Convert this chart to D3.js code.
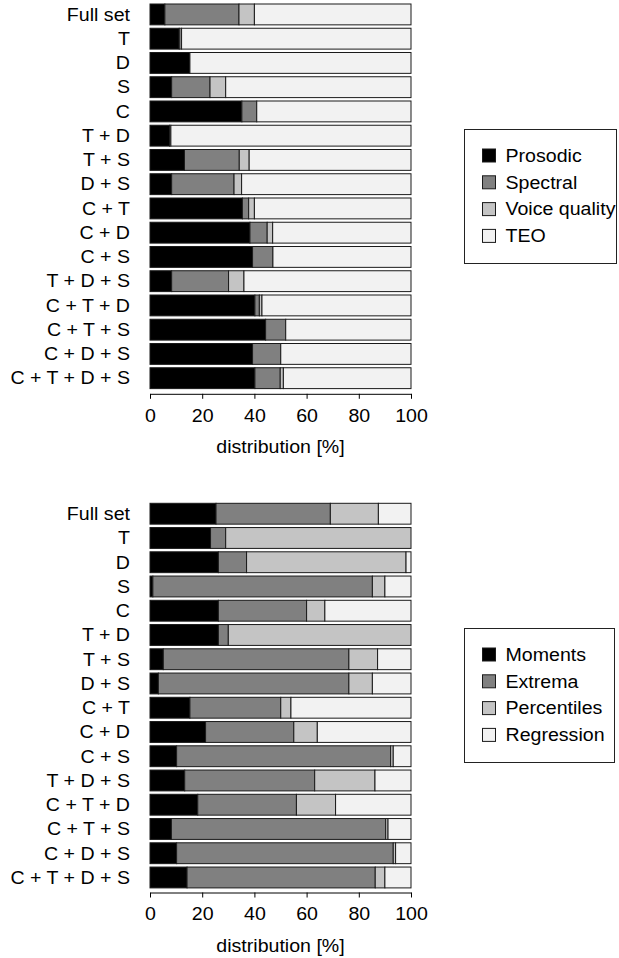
<!DOCTYPE html>
<html>
<head>
<meta charset="utf-8">
<script src="https://cdn.jsdelivr.net/npm/d3@7"></script>
<style>
  body { margin: 0; background: #fff; }
  text { font-family: "Liberation Sans", Arial, Helvetica, sans-serif; fill: #000; }
</style>
</head>
<body>
<svg id="chart" width="619" height="958"></svg>
<script>
// row labels (same for both panels)
var categories = ['Full set', 'T', 'D', 'S', 'C', 'T + D', 'T + S', 'D + S', 'C + T', 'C + D', 'C + S',
  'T + D + S', 'C + T + D', 'C + T + S', 'C + D + S', 'C + T + D + S'];

// panel 1: feature groups [%]
var groups1 = ['Prosodic', 'Spectral', 'Voice quality', 'TEO'];
var prosodic     = [5.7, 11.2, 15.3, 8.3, 35.2, 7.5, 13.2, 8.3, 35.4, 38.3, 39.3, 8.3, 40.2, 44.3, 39.3, 40.2];
var spectral     = [28.4, 0.9, 0, 14.7, 5.7, 0.5, 21.0, 23.9, 2.4, 6.6, 7.8, 21.8, 1.7, 7.7, 10.8, 9.7];
var voiceQuality = [5.9, 0, 0, 6.0, 0, 0, 3.8, 2.9, 2.2, 2.1, 0, 5.9, 1.0, 0, 0, 1.2];
var teo          = [60.0, 87.9, 84.7, 71.0, 59.1, 92.0, 62.0, 64.9, 60.0, 53.0, 52.9, 64.0, 57.1, 48.0, 49.9, 48.9];

// panel 2: functional types [%]
var groups2 = ['Moments', 'Extrema', 'Percentiles', 'Regression'];
var moments     = [25.3, 23.2, 26.2, 1.1, 26.2, 26.2, 5.1, 3.2, 15.3, 21.3, 10.2, 13.3, 18.3, 8.2, 10.2, 14.2];
var extrema     = [43.8, 5.8, 10.8, 84.1, 33.8, 3.8, 71.1, 73.0, 34.8, 33.8, 82.0, 49.8, 37.8, 82.1, 83.0, 72.1];
var percentiles = [18.4, 71.0, 61.1, 4.8, 7.0, 70.0, 11.0, 9.0, 3.9, 9.0, 1.0, 23.1, 15.0, 0.9, 0.9, 3.7];
var regression  = [12.5, 0, 1.9, 10.0, 33.0, 0, 12.8, 14.8, 46.0, 35.9, 6.8, 13.8, 28.9, 8.8, 5.9, 10.0];

var xTicks = [0, 20, 40, 60, 80, 100];
var fills = ['#000000', '#808080', '#c4c4c4', '#f2f2f2'];

var FS = '17.5px', SX = 1.12;  // the reference font is a bit wide

var svg = d3.select('#chart');
var x = d3.scaleLinear().domain([0, 100]).range([150, 411]);

function label(sel, px, py, txt, anchor) {
  return sel.append('text')
    .attr('transform', 'translate(' + px + ',' + py + ') scale(' + SX + ',1)')
    .attr('text-anchor', anchor).style('font-size', FS).text(txt);
}

function panel(series, names, top, axisY, legendBox) {
  var rows = categories.map(function(c, i) {
    var r = { cat: c };
    names.forEach(function(n, k) { r[n] = series[k][i]; });
    return r;
  });
  var stack = d3.stack().keys(names)(rows);
  var y = d3.scaleBand().domain(categories).range([top, top + 388]).paddingInner(0.14).paddingOuter(0.07);

  var g = svg.append('g');
  g.selectAll('g.layer').data(stack).enter().append('g')
    .attr('fill', function(d, k) { return fills[k]; })
    .selectAll('rect').data(function(d) { return d; }).enter().append('rect')
    .filter(function(d) { return d[1] - d[0] > 0; })
    .attr('x', function(d) { return x(d[0]); })
    .attr('y', function(d) { return y(d.data.cat); })
    .attr('width', function(d) { return x(d[1]) - x(d[0]); })
    .attr('height', y.bandwidth())
    .attr('stroke', '#1a1a1a').attr('stroke-width', 1);

  // category labels
  categories.forEach(function(c) {
    label(g, 130, y(c) + y.bandwidth() / 2, c, 'end').attr('dy', '0.36em');
  });

  // x axis
  var ax = g.append('g').attr('transform', 'translate(0,' + axisY + ')')
    .call(d3.axisBottom(x).tickValues(xTicks).tickSize(5).tickSizeOuter(0));
  ax.select('.domain').attr('stroke', '#000');
  ax.selectAll('.tick line').attr('stroke', '#000');
  ax.selectAll('.tick text').attr('y', 28).attr('dy', 0)
    .attr('transform', 'scale(' + SX + ',1)')
    .style('font-size', FS).attr('fill', '#000')
    .style('font-family', '"Liberation Sans", Arial, sans-serif');
  label(g, (x(0) + x(100)) / 2, axisY + 59, 'distribution [%]', 'middle');

  // legend
  var lg = svg.append('g');
  lg.append('rect').attr('x', legendBox[0]).attr('y', legendBox[1])
    .attr('width', legendBox[2]).attr('height', legendBox[3])
    .attr('fill', '#fff').attr('stroke', '#222').attr('stroke-width', 1);
  names.forEach(function(n, k) {
    var cy = legendBox[1] + 26 + k * 26.8;
    lg.append('rect').attr('x', legendBox[0] + 18).attr('y', cy - 6.5)
      .attr('width', 13).attr('height', 13).attr('fill', fills[k])
      .attr('stroke', '#1a1a1a').attr('stroke-width', 1);
    label(lg, legendBox[0] + 41, cy, n, 'start').attr('dy', '0.36em');
  });
}

panel([prosodic, spectral, voiceQuality, teo], groups1, 2.3, 393.8, [464.5, 129.5, 152, 134]);
panel([moments, extrema, percentiles, regression], groups2, 501.6, 892.5, [464.5, 628.5, 150, 134]);
</script>
</body>
</html>
